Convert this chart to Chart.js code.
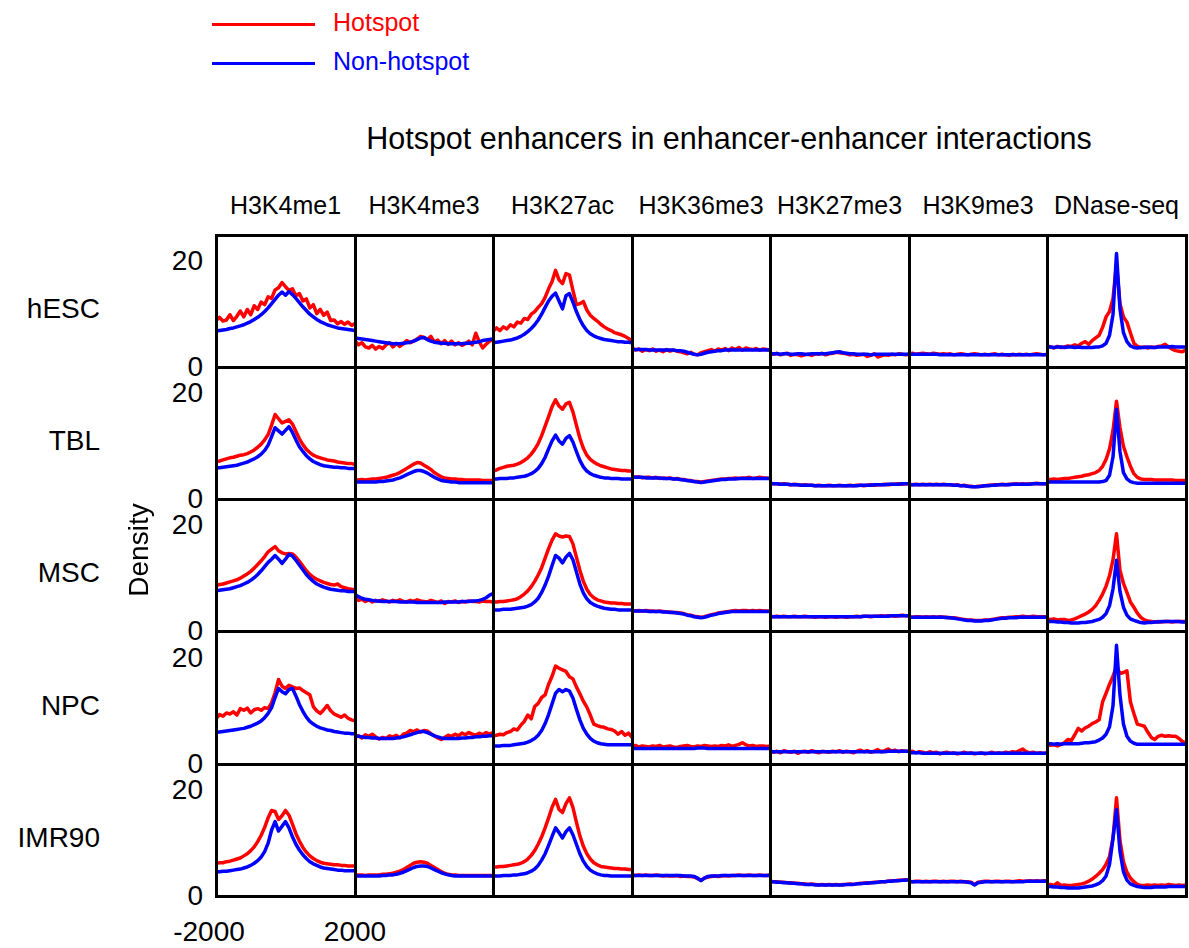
<!DOCTYPE html>
<html>
<head>
<meta charset="utf-8">
<script src="https://cdn.jsdelivr.net/npm/chart.js@4.4.1/dist/chart.umd.min.js"></script>
<style>
  body { margin: 0; background: #fff; font-family: "Liberation Sans", Arial, sans-serif; }
  #fig { position: relative; width: 1189px; height: 948px; overflow: hidden; background: #fff; }
  .t { position: absolute; white-space: nowrap; line-height: 1; color: #000; }
  .frame { position: absolute; border: 3px solid #000; box-sizing: border-box; pointer-events: none; }
  canvas { position: absolute; }
</style>
</head>
<body>
<div id="fig"></div>
<script>
// distance from enhancer centre (bp)
const positions = [-2000,-1900,-1800,-1700,-1600,-1500,-1400,-1300,-1200,-1100,-1000,-900,-800,-700,-600,-500,-400,-300,-200,-100,0,100,200,300,400,500,600,700,800,900,1000,1100,1200,1300,1400,1500,1600,1700,1800,1900,2000];

const cellTypes = ["hESC", "TBL", "MSC", "NPC", "IMR90"];
const marks = ["H3K4me1", "H3K4me3", "H3K27ac", "H3K36me3", "H3K27me3", "H3K9me3", "DNase-seq"];
const yTicks = ["20", "0"];
const xTicks = ["-2000", "2000"];

// ---- hESC ----
const hescK4me1Hot = [8.8,9.4,8.7,8.9,9.9,8.8,9.6,10.6,9.5,10.9,9.9,11.6,10.9,12.3,11.8,13.3,13.0,14.6,15.0,16.0,15.2,14.5,14.8,13.5,13.9,12.5,12.9,11.2,11.8,10.1,10.9,9.8,10.4,8.8,8.9,8.2,8.6,8.1,8.5,7.9,8.2];
const hescK4me1Non = [6.8,6.9,7.0,7.1,7.3,7.4,7.6,7.8,8.0,8.3,8.6,9.0,9.4,9.9,10.5,11.2,12.0,12.8,13.6,14.2,13.6,14.3,13.7,13.0,12.2,11.4,10.7,10.0,9.5,9.0,8.6,8.3,8.0,7.8,7.6,7.4,7.3,7.2,7.1,7.0,6.9];
const hescK4me3Hot = [5.0,4.2,4.6,3.8,3.6,4.1,3.4,3.9,3.5,4.2,4.6,3.8,4.5,3.9,4.4,5.0,4.6,4.9,5.3,5.8,5.6,5.2,5.8,4.7,5.1,4.4,5.0,4.3,4.9,4.2,4.6,4.1,4.4,4.9,4.2,6.4,4.8,3.6,4.3,4.9,5.2];
const hescK4me3Non = [5.5,5.4,5.3,5.2,5.1,5.0,4.9,4.8,4.7,4.6,4.5,4.4,4.4,4.4,4.5,4.6,4.7,4.9,5.2,5.5,5.6,5.2,4.9,4.7,4.6,4.5,4.5,4.4,4.4,4.4,4.4,4.4,4.5,4.5,4.6,4.7,4.8,5.0,5.1,5.2,5.3];
const hescK27acHot = [6.8,7.4,6.9,7.6,7.2,8.0,7.6,8.5,8.3,9.2,9.0,10.0,10.5,11.3,12.0,13.2,14.8,16.2,18.3,16.5,15.8,17.7,17.4,14.5,11.8,12.0,12.4,10.8,9.8,9.2,8.7,8.1,7.6,7.2,6.9,6.5,6.3,6.1,5.8,5.4,4.9];
const hescK27acNon = [4.6,4.7,4.8,4.9,5.0,5.1,5.3,5.5,5.8,6.2,6.7,7.3,8.0,8.9,10.0,11.3,12.5,13.4,14.0,12.5,11.0,13.5,13.9,12.3,10.5,9.0,7.8,6.9,6.3,5.9,5.6,5.4,5.2,5.1,5.0,4.9,4.8,4.8,4.7,4.7,4.6];
const hescK36Hot = [3.6,3.2,3.4,3.0,3.3,3.1,3.4,3.0,3.2,2.9,3.3,3.0,3.2,3.0,2.9,2.7,2.5,2.8,2.4,2.3,2.7,2.9,3.1,3.3,3.0,3.4,3.2,3.5,3.1,3.6,3.3,3.7,3.2,3.6,3.4,3.3,3.5,3.2,3.4,3.3,3.2];
const hescK36Non = [3.3,3.3,3.3,3.3,3.3,3.2,3.2,3.2,3.2,3.2,3.2,3.2,3.2,3.1,3.1,3.0,2.8,2.6,2.4,2.3,2.4,2.6,2.8,2.9,3.0,3.1,3.1,3.2,3.2,3.2,3.2,3.2,3.2,3.2,3.2,3.2,3.2,3.2,3.2,3.2,3.2];
const hescK27me3Hot = [2.7,2.4,2.6,2.3,2.5,2.6,2.2,2.4,2.3,2.1,2.3,2.4,2.2,2.5,2.4,2.6,2.3,2.5,2.6,2.8,2.7,2.6,2.5,2.3,2.4,2.2,2.3,2.4,2.0,2.2,2.5,1.9,2.1,2.3,2.2,2.4,2.3,2.5,2.4,2.3,2.4];
const hescK27me3Non = [2.5,2.5,2.5,2.4,2.5,2.5,2.4,2.4,2.5,2.5,2.4,2.4,2.5,2.5,2.5,2.5,2.5,2.6,2.7,2.8,2.9,2.7,2.6,2.5,2.5,2.4,2.4,2.4,2.4,2.3,2.4,2.4,2.4,2.4,2.4,2.4,2.4,2.4,2.4,2.4,2.4];
const hescK9me3Hot = [2.5,2.6,2.4,2.5,2.6,2.5,2.4,2.6,2.5,2.4,2.5,2.4,2.5,2.3,2.4,2.5,2.4,2.3,2.4,2.5,2.4,2.3,2.4,2.3,2.4,2.5,2.3,2.4,2.3,2.2,2.4,2.3,2.4,2.3,2.4,2.3,2.4,2.5,2.4,2.3,2.4];
const hescK9me3Non = [2.4,2.4,2.4,2.4,2.4,2.4,2.4,2.4,2.4,2.3,2.3,2.3,2.3,2.3,2.3,2.3,2.3,2.3,2.3,2.3,2.3,2.3,2.3,2.3,2.3,2.3,2.3,2.3,2.3,2.3,2.3,2.3,2.3,2.3,2.3,2.3,2.3,2.3,2.3,2.3,2.3];
const hescDnaseHot = [4.0,3.8,3.6,3.9,3.7,3.8,4.0,3.9,4.2,4.0,4.5,4.8,4.3,5.0,5.5,6.0,7.5,9.5,10.5,13.0,19.5,12.0,9.5,8.5,6.5,4.5,3.9,3.7,3.8,3.6,3.8,3.7,3.9,4.0,4.3,3.8,3.4,3.1,3.0,2.9,3.2];
const hescDnaseNon = [3.9,3.8,3.7,3.8,3.8,3.7,3.8,3.8,3.7,3.8,3.7,3.7,3.7,3.7,3.8,3.8,4.0,4.5,6.0,10.0,21.5,11.0,6.5,4.8,4.0,3.7,3.6,3.7,3.7,3.8,3.7,3.7,3.8,3.8,3.8,3.8,3.9,3.8,3.8,3.8,3.8];

// ---- TBL ----
const tblK4me1Hot = [7.1,7.2,7.4,7.6,7.8,7.9,8.1,8.3,8.4,8.6,8.9,9.3,9.8,10.4,11.2,12.2,14.0,16.0,15.2,14.4,14.7,15.0,14.2,12.8,11.4,10.3,9.4,8.8,8.3,8.0,7.8,7.6,7.4,7.3,7.2,7.0,6.9,6.8,6.7,6.7,6.6];
const tblK4me1Non = [5.9,5.9,6.0,6.1,6.2,6.3,6.4,6.6,6.8,7.0,7.3,7.6,8.0,8.5,9.2,10.2,11.8,13.5,12.9,12.3,13.0,13.7,12.6,11.2,9.9,9.0,8.2,7.6,7.1,6.8,6.5,6.3,6.2,6.1,6.0,6.0,5.9,5.9,5.8,5.8,5.8];
const tblK4me3Hot = [3.7,3.6,3.7,3.6,3.7,3.8,3.8,3.9,4.0,4.1,4.3,4.5,4.7,5.0,5.4,5.8,6.2,6.6,6.9,6.8,6.4,6.0,5.6,5.0,4.6,4.2,4.0,3.9,3.8,3.8,3.7,3.7,3.6,3.6,3.6,3.6,3.6,3.5,3.5,3.5,3.5];
const tblK4me3Non = [3.2,3.2,3.2,3.2,3.2,3.2,3.2,3.3,3.3,3.4,3.5,3.6,3.8,4.0,4.3,4.6,4.9,5.2,5.4,5.4,5.2,4.9,4.5,4.1,3.8,3.5,3.4,3.3,3.2,3.2,3.1,3.1,3.1,3.1,3.1,3.1,3.1,3.1,3.1,3.1,3.1];
const tblK27acHot = [5.3,5.5,5.8,6.0,6.2,6.3,6.4,6.6,6.9,7.3,7.8,8.5,9.4,10.5,12.0,13.8,15.6,17.5,18.8,17.6,17.0,18.0,18.3,16.5,14.0,11.5,9.6,8.3,7.5,7.0,6.6,6.3,6.1,5.9,5.7,5.6,5.5,5.4,5.4,5.3,5.3];
const tblK27acNon = [3.8,3.8,3.9,3.9,3.9,4.0,4.0,4.1,4.2,4.3,4.5,4.8,5.2,5.8,6.7,7.9,9.5,11.0,12.1,11.0,10.4,11.5,12.0,10.8,9.0,7.3,6.1,5.3,4.8,4.5,4.3,4.1,4.0,4.0,3.9,3.9,3.9,3.8,3.8,3.8,3.8];
const tblK36Hot = [4.2,4.1,4.2,4.0,4.1,4.1,4.0,4.1,3.9,4.0,3.9,4.0,3.8,3.9,3.7,3.7,3.5,3.5,3.3,3.3,3.2,3.3,3.4,3.5,3.6,3.7,3.8,3.8,3.9,3.9,4.0,3.9,4.0,4.0,4.1,3.9,4.0,4.1,4.0,4.0,3.9];
const tblK36Non = [4.1,4.1,4.1,4.1,4.0,4.0,4.0,4.0,4.0,3.9,3.9,3.9,3.8,3.8,3.7,3.6,3.5,3.4,3.3,3.2,3.1,3.2,3.3,3.4,3.5,3.6,3.7,3.7,3.8,3.8,3.8,3.9,3.9,3.9,3.9,3.9,3.9,3.9,3.9,3.9,3.9];
const tblK27me3Hot = [3.0,2.9,2.9,2.8,2.9,2.8,2.7,2.8,2.7,2.6,2.7,2.6,2.6,2.5,2.6,2.5,2.5,2.6,2.5,2.5,2.6,2.5,2.5,2.6,2.5,2.6,2.6,2.5,2.6,2.7,2.6,2.7,2.7,2.8,2.7,2.8,2.8,2.9,2.8,2.9,2.9];
const tblK27me3Non = [2.9,2.9,2.9,2.8,2.8,2.8,2.7,2.7,2.7,2.6,2.6,2.6,2.6,2.5,2.5,2.5,2.5,2.5,2.5,2.5,2.5,2.5,2.5,2.5,2.5,2.5,2.6,2.6,2.6,2.6,2.7,2.7,2.7,2.7,2.8,2.8,2.8,2.8,2.9,2.9,2.9];
const tblK9me3Hot = [2.8,2.7,2.8,2.7,2.8,2.7,2.8,2.7,2.8,2.7,2.8,2.7,2.7,2.6,2.7,2.5,2.6,2.4,2.4,2.3,2.4,2.4,2.5,2.6,2.6,2.7,2.7,2.8,2.7,2.8,2.8,2.9,2.8,2.9,2.8,2.9,2.9,3.0,2.9,2.9,2.9];
const tblK9me3Non = [2.7,2.7,2.7,2.7,2.7,2.7,2.7,2.7,2.7,2.7,2.7,2.7,2.7,2.6,2.6,2.5,2.5,2.4,2.3,2.3,2.3,2.4,2.5,2.5,2.6,2.6,2.7,2.7,2.7,2.7,2.8,2.8,2.8,2.8,2.8,2.8,2.9,2.9,2.9,2.9,2.9];
const tblDnaseHot = [3.7,3.7,3.8,3.7,3.8,3.9,3.9,4.0,4.1,4.2,4.3,4.5,4.6,4.8,5.0,5.4,6.2,7.5,9.5,13.0,18.5,13.5,10.0,8.0,6.2,4.8,4.1,3.8,3.7,3.7,3.7,3.6,3.6,3.6,3.6,3.6,3.6,3.5,3.5,3.5,3.5];
const tblDnaseNon = [3.2,3.2,3.2,3.2,3.2,3.2,3.2,3.2,3.2,3.2,3.2,3.2,3.2,3.2,3.2,3.2,3.3,3.5,4.5,8.0,17.0,9.0,5.0,3.8,3.3,3.1,3.0,3.0,3.0,3.0,3.0,3.0,3.0,3.0,3.0,3.0,3.0,3.0,3.0,3.0,3.0];

// ---- MSC ----
const mscK4me1Hot = [8.6,8.8,8.9,9.1,9.3,9.5,9.7,10.0,10.4,10.8,11.3,11.9,12.6,13.3,14.1,15.0,15.5,16.0,15.2,14.8,14.6,14.7,14.6,14.0,13.2,12.3,11.4,10.7,10.2,9.8,9.5,9.2,9.0,8.8,8.7,8.9,8.4,8.2,8.0,7.9,7.8];
const mscK4me1Non = [7.6,7.7,7.8,7.9,8.0,8.2,8.4,8.6,8.9,9.2,9.6,10.1,10.7,11.4,12.2,13.0,13.6,14.3,13.6,12.8,13.6,14.5,14.2,13.4,12.5,11.6,10.7,10.0,9.4,8.9,8.6,8.3,8.1,7.9,7.8,7.7,7.6,7.6,7.5,7.5,7.5];
const mscK4me3Hot = [6.2,5.8,6.0,5.6,5.9,5.5,5.8,5.6,5.9,5.7,5.5,5.8,5.6,5.9,5.6,5.5,5.8,5.6,5.9,5.7,5.6,5.5,5.8,5.6,5.4,5.7,5.2,5.6,5.5,5.7,5.4,5.6,5.5,5.7,5.6,5.6,5.5,5.7,5.6,5.6,5.5];
const mscK4me3Non = [6.9,6.5,6.2,6.0,5.9,5.8,5.7,5.7,5.6,5.6,5.6,5.6,5.6,5.5,5.5,5.5,5.5,5.5,5.4,5.4,5.4,5.4,5.4,5.4,5.4,5.4,5.5,5.5,5.5,5.5,5.5,5.6,5.6,5.6,5.7,5.7,5.8,6.0,6.3,6.8,7.1];
const mscK27acHot = [5.5,5.5,5.6,5.6,5.7,5.8,5.9,6.1,6.5,7.0,7.6,8.4,9.4,10.6,12.0,13.8,15.6,17.2,18.4,18.0,17.8,18.0,17.9,16.5,14.0,11.5,9.4,7.9,6.9,6.3,5.9,5.7,5.5,5.4,5.3,5.3,5.2,5.2,5.1,5.1,5.1];
const mscK27acNon = [4.0,4.0,4.0,4.1,4.1,4.1,4.2,4.3,4.4,4.5,4.7,5.0,5.5,6.2,7.3,8.7,10.4,12.4,14.3,13.8,12.9,14.0,14.7,13.5,11.2,8.9,7.2,6.1,5.4,5.0,4.7,4.5,4.3,4.2,4.1,4.1,4.0,4.0,4.0,4.0,4.0];
const mscK36Hot = [3.9,3.8,3.9,3.8,3.9,3.8,3.8,3.7,3.8,3.7,3.6,3.6,3.5,3.5,3.4,3.3,3.1,3.0,2.8,2.7,2.6,2.7,2.9,3.1,3.2,3.4,3.5,3.6,3.7,3.8,3.9,3.8,3.9,3.9,3.8,3.9,3.8,3.9,3.8,3.8,3.8];
const mscK36Non = [3.8,3.8,3.8,3.8,3.8,3.7,3.7,3.7,3.7,3.6,3.6,3.5,3.5,3.4,3.3,3.2,3.0,2.9,2.7,2.6,2.5,2.6,2.8,3.0,3.1,3.3,3.4,3.5,3.6,3.7,3.7,3.7,3.7,3.7,3.7,3.7,3.7,3.7,3.7,3.7,3.7];
const mscK27me3Hot = [2.8,2.7,2.8,2.7,2.8,2.7,2.7,2.8,2.7,2.7,2.8,2.7,2.7,2.6,2.7,2.7,2.6,2.7,2.7,2.6,2.7,2.7,2.6,2.7,2.7,2.8,2.7,2.8,2.8,2.7,2.8,2.8,2.9,2.8,2.9,2.9,2.8,2.9,3.0,2.9,2.9];
const mscK27me3Non = [2.7,2.7,2.7,2.7,2.7,2.7,2.7,2.7,2.7,2.7,2.7,2.7,2.7,2.7,2.7,2.7,2.7,2.7,2.7,2.7,2.7,2.7,2.7,2.7,2.7,2.7,2.7,2.8,2.8,2.8,2.8,2.8,2.8,2.8,2.8,2.9,2.9,2.9,2.9,2.9,2.9];
const mscK9me3Hot = [2.7,2.6,2.7,2.7,2.6,2.7,2.6,2.7,2.6,2.7,2.6,2.6,2.5,2.5,2.4,2.3,2.2,2.1,2.1,2.0,2.0,2.0,2.1,2.1,2.2,2.3,2.4,2.5,2.5,2.6,2.6,2.7,2.7,2.8,2.7,2.7,2.8,2.7,2.7,2.7,2.7];
const mscK9me3Non = [2.6,2.6,2.6,2.6,2.6,2.6,2.6,2.6,2.6,2.6,2.6,2.5,2.5,2.4,2.3,2.2,2.1,2.0,2.0,1.9,1.9,1.9,2.0,2.0,2.1,2.2,2.3,2.4,2.4,2.5,2.5,2.5,2.6,2.6,2.6,2.6,2.6,2.6,2.6,2.6,2.6];
const mscDnaseHot = [2.3,2.2,2.3,2.1,2.2,2.2,2.0,2.1,2.3,2.6,2.9,3.2,3.6,4.1,4.8,5.8,7.0,8.5,10.5,13.5,18.4,11.5,9.0,7.3,5.5,4.5,3.4,2.6,2.1,1.9,1.8,1.7,1.8,1.7,1.8,1.8,1.7,1.8,1.8,1.8,1.8];
const mscDnaseNon = [1.8,1.8,1.8,1.7,1.7,1.6,1.6,1.5,1.5,1.5,1.6,1.6,1.7,1.8,2.0,2.2,2.6,3.3,4.8,8.0,13.4,7.5,4.5,3.0,2.3,2.0,1.8,1.6,1.5,1.6,1.6,1.7,1.7,1.8,1.8,1.8,1.8,1.8,1.8,1.7,1.7];

// ---- NPC ----
const npcK4me1Hot = [8.5,9.3,9.0,9.6,9.4,9.8,9.2,10.4,10.1,10.5,9.6,10.2,10.4,10.1,10.6,10.4,11.5,13.4,15.9,14.6,14.2,14.8,14.5,14.2,14.3,13.8,13.4,13.0,10.8,10.0,9.5,10.2,11.0,10.0,9.4,9.1,8.8,9.2,8.6,8.3,8.1];
const npcK4me1Non = [5.9,6.0,6.1,6.2,6.3,6.4,6.5,6.6,6.7,6.9,7.1,7.4,7.7,8.1,8.7,9.5,10.6,12.5,14.2,13.6,13.2,14.0,14.2,12.8,11.2,9.9,8.8,8.0,7.5,7.1,6.8,6.6,6.4,6.3,6.1,6.0,5.9,5.8,5.8,5.7,5.7];
const npcK4me3Hot = [5.0,5.3,4.9,5.5,5.2,5.6,5.1,4.7,5.0,4.8,5.3,5.1,5.4,4.9,5.6,5.8,6.3,6.1,6.4,6.0,6.3,6.2,5.7,5.3,4.9,4.6,5.0,5.4,5.2,5.6,5.3,5.8,5.5,5.9,5.6,5.4,5.8,5.5,5.9,5.6,5.9];
const npcK4me3Non = [5.3,5.2,5.1,5.0,5.0,4.9,4.9,4.8,4.8,4.8,4.8,4.8,4.9,5.0,5.1,5.3,5.5,5.7,5.9,6.1,6.1,5.9,5.6,5.3,5.1,4.9,4.8,4.8,4.8,4.8,4.8,4.9,4.9,5.0,5.0,5.1,5.1,5.2,5.2,5.3,5.3];
const npcK27acHot = [5.3,5.4,5.6,5.5,5.9,6.1,6.6,6.4,7.3,8.0,9.2,8.5,10.8,11.4,12.5,13.0,15.0,16.5,18.4,18.0,17.7,17.4,16.4,16.0,14.5,13.2,11.8,10.7,9.2,7.5,7.2,7.0,6.9,6.6,6.5,6.2,5.6,6.1,5.4,5.8,5.0];
const npcK27acNon = [3.4,3.4,3.4,3.5,3.5,3.5,3.6,3.7,3.8,3.9,4.1,4.4,4.8,5.4,6.3,7.6,9.3,11.3,13.3,14.0,13.6,14.0,13.7,12.4,10.3,8.3,6.7,5.6,4.8,4.3,4.0,3.8,3.7,3.6,3.6,3.6,3.6,3.6,3.6,3.6,3.6];
const npcK36Hot = [3.3,3.5,3.2,3.4,3.3,3.2,3.4,3.3,3.5,3.2,3.3,3.4,3.2,3.1,3.3,3.4,3.5,3.3,3.2,3.4,3.3,3.5,3.4,3.3,3.4,3.3,3.5,3.4,3.6,3.3,3.5,3.7,4.0,3.6,3.4,3.5,3.3,3.4,3.4,3.3,3.4];
const npcK36Non = [2.9,2.9,2.9,2.9,2.9,2.9,2.9,2.9,2.9,2.9,2.9,2.9,2.9,2.9,2.9,2.9,2.9,2.9,2.9,3.0,3.0,3.0,2.9,2.9,2.9,2.9,2.9,2.9,2.9,2.9,2.9,2.9,2.9,2.9,2.9,2.9,2.9,2.9,2.9,2.9,2.9];
const npcK27me3Hot = [2.5,2.2,2.4,2.1,2.5,2.3,2.2,2.4,2.0,2.3,2.4,2.2,2.5,2.3,2.1,2.4,2.3,2.2,2.4,2.3,2.5,2.2,2.4,2.3,2.1,2.4,2.6,2.3,2.5,2.2,2.4,2.7,2.3,2.5,2.8,2.4,2.6,2.3,2.5,2.4,2.4];
const npcK27me3Non = [2.3,2.3,2.3,2.3,2.3,2.3,2.3,2.3,2.3,2.3,2.3,2.3,2.3,2.3,2.3,2.3,2.3,2.3,2.3,2.3,2.3,2.3,2.3,2.3,2.3,2.3,2.3,2.3,2.3,2.3,2.3,2.3,2.3,2.3,2.4,2.4,2.4,2.4,2.4,2.4,2.4];
const npcK9me3Hot = [2.2,2.4,2.1,2.3,2.2,2.0,2.3,2.1,2.2,1.9,2.1,2.2,2.0,2.1,1.9,2.0,2.2,2.0,2.1,1.9,2.0,2.1,1.9,2.0,2.2,2.0,2.1,2.0,2.2,2.1,2.3,2.2,2.5,2.8,2.3,2.1,2.2,2.0,2.1,2.0,2.1];
const npcK9me3Non = [2.1,2.1,2.1,2.1,2.0,2.0,2.0,2.0,2.0,2.0,2.0,2.0,2.0,2.0,2.0,2.0,2.0,2.0,2.0,2.0,2.0,2.0,2.0,2.0,2.0,2.0,2.0,2.0,2.0,2.0,2.0,2.0,2.0,2.0,2.0,2.0,2.0,2.0,2.0,2.0,2.0];
const npcDnaseHot = [3.6,3.5,3.6,3.4,3.7,4.0,4.6,4.4,5.5,6.7,6.2,6.8,7.1,7.6,7.9,8.3,11.7,13.3,15.0,16.5,18.3,17.0,17.2,17.5,11.7,9.5,7.5,7.3,7.1,6.0,5.0,4.6,5.2,5.4,5.2,5.3,5.2,5.2,4.8,4.2,4.0];
const npcDnaseNon = [3.8,3.8,3.7,3.8,3.7,3.8,3.8,3.8,3.8,3.8,3.9,4.0,4.0,4.1,4.2,4.5,4.9,5.6,7.0,11.0,22.3,13.0,7.5,5.2,4.3,3.9,3.7,3.7,3.7,3.7,3.7,3.7,3.7,3.7,3.7,3.7,3.7,3.7,3.7,3.7,3.7];

// ---- IMR90 ----
const imrK4me1Hot = [6.2,6.3,6.3,6.5,6.6,6.8,7.0,7.2,7.6,8.0,8.6,9.3,10.3,11.5,13.0,14.8,16.2,16.0,14.5,15.2,16.2,15.3,13.6,11.8,10.4,9.2,8.3,7.6,7.1,6.7,6.4,6.2,6.1,6.0,5.9,5.9,5.8,5.8,5.7,5.7,5.7];
const imrK4me1Non = [4.6,4.6,4.7,4.7,4.8,4.9,5.0,5.1,5.3,5.5,5.8,6.2,6.7,7.4,8.4,10.0,12.5,14.1,12.3,13.2,14.1,12.9,11.2,9.8,8.7,7.8,7.1,6.5,6.1,5.8,5.5,5.3,5.2,5.1,5.0,4.9,4.9,4.8,4.8,4.8,4.8];
const imrK4me3Hot = [4.0,4.0,4.0,3.9,4.0,4.0,4.0,4.0,4.1,4.1,4.2,4.3,4.5,4.7,5.0,5.4,5.8,6.2,6.4,6.5,6.4,6.2,5.8,5.4,5.0,4.6,4.3,4.1,4.0,4.0,3.9,3.9,3.9,3.9,3.9,3.9,3.9,3.9,3.9,3.9,3.9];
const imrK4me3Non = [3.8,3.8,3.8,3.8,3.8,3.8,3.8,3.8,3.9,3.9,4.0,4.0,4.1,4.3,4.5,4.8,5.1,5.4,5.6,5.7,5.7,5.6,5.3,5.0,4.7,4.4,4.2,4.0,3.9,3.8,3.8,3.8,3.8,3.8,3.8,3.8,3.8,3.8,3.8,3.8,3.8];
const imrK27acHot = [5.5,5.5,5.6,5.6,5.7,5.8,5.9,6.0,6.2,6.5,7.0,7.7,8.6,9.8,11.2,12.9,14.8,16.8,18.3,16.4,15.8,17.5,18.6,16.8,14.0,11.4,9.4,8.0,7.0,6.3,5.9,5.6,5.5,5.4,5.3,5.2,5.2,5.1,5.1,5.0,5.0];
const imrK27acNon = [3.8,3.8,3.8,3.9,3.9,3.9,4.0,4.0,4.1,4.2,4.4,4.7,5.1,5.8,6.8,8.0,9.6,11.3,12.9,12.0,11.0,12.2,12.9,11.6,9.8,8.0,6.6,5.6,4.9,4.5,4.2,4.0,3.9,3.9,3.8,3.8,3.8,3.8,3.8,3.8,3.8];
const imrK36Hot = [4.0,3.9,4.0,3.9,4.0,3.9,3.9,4.0,3.9,3.8,3.9,3.8,3.8,3.9,3.7,3.8,3.7,3.7,3.6,3.3,3.0,3.4,3.6,3.7,3.8,3.7,3.8,3.9,3.8,3.9,3.9,4.0,3.9,3.9,4.0,3.9,3.9,4.0,3.9,3.9,4.0];
const imrK36Non = [3.9,3.9,3.9,3.9,3.9,3.9,3.9,3.9,3.9,3.9,3.9,3.9,3.9,3.9,3.9,3.8,3.8,3.8,3.7,3.4,2.9,3.4,3.7,3.8,3.8,3.8,3.9,3.9,3.9,3.9,3.9,3.9,3.9,3.9,3.9,3.9,3.9,3.9,3.9,3.9,3.9];
const imrK27me3Hot = [2.8,2.7,2.7,2.6,2.6,2.5,2.5,2.4,2.4,2.3,2.3,2.2,2.3,2.2,2.1,2.2,2.1,2.2,2.1,2.2,2.1,2.2,2.2,2.3,2.2,2.3,2.4,2.4,2.5,2.5,2.6,2.6,2.7,2.7,2.8,2.9,2.9,3.0,3.0,3.1,3.1];
const imrK27me3Non = [2.7,2.7,2.6,2.6,2.5,2.5,2.4,2.4,2.3,2.3,2.2,2.2,2.2,2.1,2.1,2.1,2.1,2.1,2.1,2.1,2.1,2.1,2.2,2.2,2.2,2.3,2.3,2.4,2.4,2.5,2.5,2.6,2.7,2.7,2.8,2.8,2.9,2.9,3.0,3.0,3.1];
const imrK9me3Hot = [2.8,2.7,2.8,2.8,2.7,2.8,2.7,2.8,2.8,2.7,2.8,2.7,2.8,2.8,2.7,2.8,2.7,2.7,2.6,2.2,2.6,2.7,2.8,2.8,2.7,2.8,2.8,2.7,2.8,2.8,2.7,2.8,2.9,2.8,2.8,2.9,2.8,2.9,2.8,2.9,2.9];
const imrK9me3Non = [2.7,2.7,2.7,2.7,2.7,2.7,2.7,2.7,2.7,2.7,2.7,2.7,2.7,2.7,2.7,2.7,2.7,2.6,2.5,2.1,2.5,2.6,2.7,2.7,2.7,2.7,2.7,2.7,2.7,2.7,2.7,2.7,2.7,2.7,2.8,2.8,2.8,2.8,2.8,2.8,2.8];
const imrDnaseHot = [2.1,2.2,2.0,2.5,2.0,2.1,2.0,2.0,2.1,2.2,2.3,2.5,2.8,3.2,3.7,4.3,5.0,6.0,7.5,11.0,18.6,10.5,6.5,4.5,3.4,2.7,2.2,2.0,2.0,2.1,2.0,2.1,2.0,2.1,2.0,2.2,2.1,2.0,2.1,2.0,2.1];
const imrDnaseNon = [1.8,1.8,1.7,1.7,1.6,1.6,1.5,1.5,1.5,1.5,1.6,1.7,1.8,1.9,2.1,2.4,2.9,3.8,6.0,11.0,16.4,8.5,4.6,3.0,2.3,2.0,1.8,1.7,1.6,1.6,1.6,1.7,1.7,1.7,1.7,1.8,1.8,1.8,1.8,1.8,1.8];

// rows = cell types, columns = marks
const hotspotRows = [
  [hescK4me1Hot, hescK4me3Hot, hescK27acHot, hescK36Hot, hescK27me3Hot, hescK9me3Hot, hescDnaseHot],
  [tblK4me1Hot, tblK4me3Hot, tblK27acHot, tblK36Hot, tblK27me3Hot, tblK9me3Hot, tblDnaseHot],
  [mscK4me1Hot, mscK4me3Hot, mscK27acHot, mscK36Hot, mscK27me3Hot, mscK9me3Hot, mscDnaseHot],
  [npcK4me1Hot, npcK4me3Hot, npcK27acHot, npcK36Hot, npcK27me3Hot, npcK9me3Hot, npcDnaseHot],
  [imrK4me1Hot, imrK4me3Hot, imrK27acHot, imrK36Hot, imrK27me3Hot, imrK9me3Hot, imrDnaseHot],
];
const nonHotspotRows = [
  [hescK4me1Non, hescK4me3Non, hescK27acNon, hescK36Non, hescK27me3Non, hescK9me3Non, hescDnaseNon],
  [tblK4me1Non, tblK4me3Non, tblK27acNon, tblK36Non, tblK27me3Non, tblK9me3Non, tblDnaseNon],
  [mscK4me1Non, mscK4me3Non, mscK27acNon, mscK36Non, mscK27me3Non, mscK9me3Non, mscDnaseNon],
  [npcK4me1Non, npcK4me3Non, npcK27acNon, npcK36Non, npcK27me3Non, npcK9me3Non, npcDnaseNon],
  [imrK4me1Non, imrK4me3Non, imrK27acNon, imrK36Non, imrK27me3Non, imrK9me3Non, imrDnaseNon],
];

const fig = document.getElementById("fig");
const gridLeft = 216, gridTop = 234.5, panelW = 138.57, panelH = 132.3;
const yMax = 25;

function addText(txt, x, y, size, opts = {}) {
  const d = document.createElement("div");
  d.className = "t";
  d.textContent = txt;
  d.style.left = x + "px";
  d.style.top = y + "px";
  d.style.fontSize = size + "px";
  if (opts.color) d.style.color = opts.color;
  const ax = opts.align === "right" ? "-100%" : opts.align === "left" ? "0" : "-50%";
  d.style.transform = `translate(${ax},-50%)` + (opts.rotate ? ` rotate(${opts.rotate}deg)` : "");
  fig.appendChild(d);
}

function toPoints(arr) {
  return positions.map((x, i) => ({ x: x, y: arr[i] }));
}

function colEdge(c) { return Math.round(gridLeft + c * panelW); }
function rowEdge(r) { return Math.round(gridTop + r * panelH); }

// legend
function legendLine(y, color) {
  const d = document.createElement("div");
  d.style.cssText = `position:absolute;left:212px;top:${y - 1.5}px;width:103px;height:3px;background:${color}`;
  fig.appendChild(d);
}
legendLine(24, "#ff0000");
legendLine(63, "#0000ff");
addText("Hotspot", 333, 22, 25, { align: "left", color: "#ff0000" });
addText("Non-hotspot", 333, 61, 25, { align: "left", color: "#0000ff" });

addText("Hotspot enhancers in enhancer-enhancer interactions", 729, 138, 30.5);

marks.forEach((m, c) => {
  addText(m, (colEdge(c) + colEdge(c + 1)) / 2, 205, 25);
});

const lineStyle = { borderWidth: 3.5, pointRadius: 0, tension: 0, borderJoinStyle: "round", fill: false };

cellTypes.forEach((cell, r) => {
  const top = rowEdge(r), bottom = rowEdge(r + 1);
  addText(cell, 100, (top + bottom) / 2 + 8, 28, { align: "right" });
  addText(yTicks[0], 203, bottom - (bottom - top) * 20 / yMax, 28, { align: "right" });
  addText(yTicks[1], 203, bottom, 28, { align: "right" });

  marks.forEach((m, c) => {
    const x = colEdge(c), y = top;
    const w = colEdge(c + 1) - x, h = bottom - top;
    const cv = document.createElement("canvas");
    cv.width = w; cv.height = h;
    cv.style.left = x + "px"; cv.style.top = y + "px";
    cv.style.width = w + "px"; cv.style.height = h + "px";
    fig.appendChild(cv);

    new Chart(cv, {
      type: "line",
      data: {
        datasets: [
          { ...lineStyle, label: "Non-hotspot", data: toPoints(nonHotspotRows[r][c]), borderColor: "#0000ff" },
          { ...lineStyle, label: "Hotspot", data: toPoints(hotspotRows[r][c]), borderColor: "#ff0000" },
        ],
      },
      options: {
        responsive: false,
        animation: false,
        events: [],
        layout: { padding: 0 },
        plugins: { legend: { display: false }, tooltip: { enabled: false } },
        scales: {
          x: { type: "linear", min: -2000, max: 2000, display: false },
          y: { type: "linear", min: 0, max: yMax, display: false },
        },
      },
    });

    const f = document.createElement("div");
    f.className = "frame";
    f.style.left = (x - 1) + "px"; f.style.top = (y - 1) + "px";
    f.style.width = (w + 3) + "px"; f.style.height = (h + 3) + "px";
    fig.appendChild(f);
  });
});

addText("Density", 139, 550, 28, { rotate: -90 });
addText(xTicks[0], 209, 932, 28);
addText(xTicks[1], colEdge(1), 932, 28);
</script>
</body>
</html>
